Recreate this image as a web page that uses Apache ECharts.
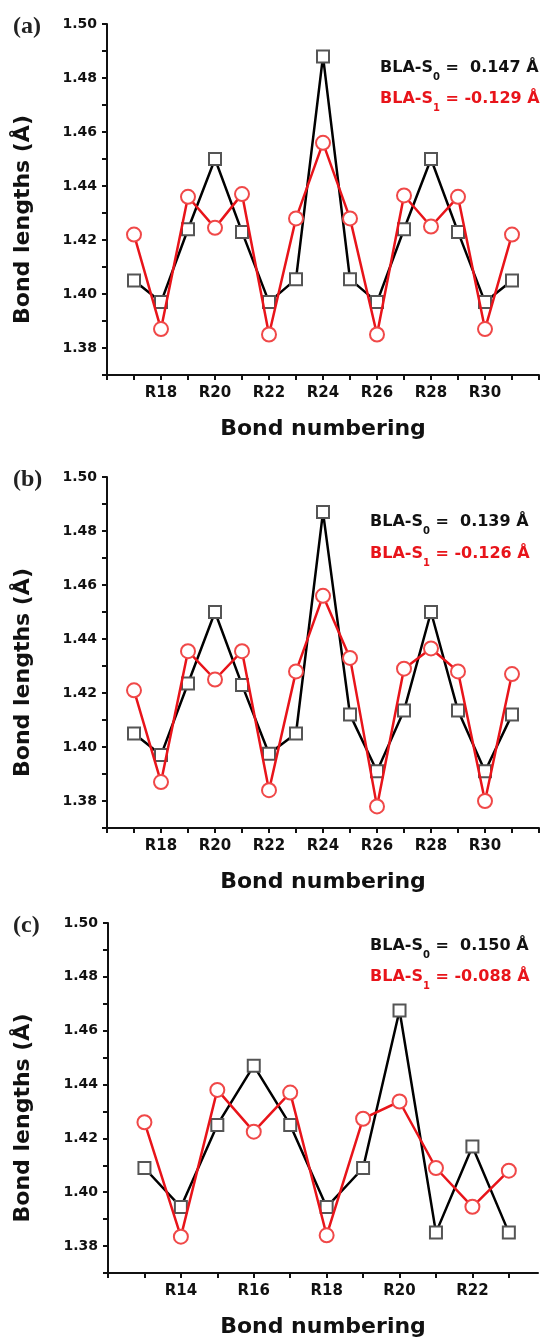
<!DOCTYPE html>
<html>
<head>
<meta charset="utf-8">
<script src="https://cdn.jsdelivr.net/npm/echarts@6/dist/echarts.min.js"></script>
<style>
    html, body { margin: 0; padding: 0; background: #fff; }
    #chartBox { width: 544px; height: 1339px; }
</style>
</head>
<body>
<div id="chartBox"></div>
<script>
    // bond numbers (x) for each panel
    const bondsAB = [17, 18, 19, 20, 21, 22, 23, 24, 25, 26, 27, 28, 29, 30, 31];
    const bondsC = [13, 14, 15, 16, 17, 18, 19, 20, 21, 22, 23];

    // bond lengths (Å), S0 = black squares, S1 = red circles
    const s0A = [1.405, 1.397, 1.424, 1.450, 1.423, 1.397, 1.4055, 1.488, 1.4055, 1.397, 1.424, 1.450, 1.423, 1.397, 1.405];
    const s1A = [1.422, 1.387, 1.436, 1.4245, 1.437, 1.385, 1.428, 1.456, 1.428, 1.385, 1.4365, 1.425, 1.436, 1.387, 1.422];
    const s0B = [1.405, 1.397, 1.4235, 1.450, 1.423, 1.3975, 1.405, 1.487, 1.412, 1.391, 1.4135, 1.450, 1.4135, 1.391, 1.412];
    const s1B = [1.421, 1.387, 1.4355, 1.425, 1.4355, 1.384, 1.428, 1.456, 1.433, 1.378, 1.429, 1.4365, 1.428, 1.380, 1.427];
    const s0C = [1.409, 1.3945, 1.425, 1.447, 1.425, 1.3945, 1.409, 1.4675, 1.385, 1.417, 1.385];
    const s1C = [1.426, 1.3835, 1.438, 1.4225, 1.437, 1.384, 1.4273, 1.4337, 1.409, 1.3946, 1.408];

    // annotation texts
    const panelTags = ['(a)', '(b)', '(c)'];
    const blaS0 = ['0.147', '0.139', '0.150'];
    const blaS1 = ['-0.129', '-0.126', '-0.088'];

    const xRanges = [[16, 32], [16, 32], [12, 23.8]];
    const xLabelRanges = [[18, 30], [18, 30], [14, 22]];

    const grids = [
        { left: 107, top: 24, width: 432, height: 351 },
        { left: 107, top: 477, width: 432, height: 351 },
        { left: 108, top: 923, width: 430, height: 350 }
    ];
    // where the BLA texts sit (pixels)
    const blaPos = [[380, 68, 99], [370, 522, 554], [370, 946, 977]];

    const sans = 'DejaVu Sans';
    const axisColor = '#111';

    function seq (a, b, step) {
        let out = [];
        for (let v = a; v <= b + 1e-9; v += step) out.push(Math.round(v * 100) / 100);
        return out;
    }

    let xAxes = [], yAxes = [], series = [], graphics = [];
    const panels = [[bondsAB, s0A, s1A], [bondsAB, s0B, s1B], [bondsC, s0C, s1C]];

    panels.forEach(function (p, i) {
        const lr = xLabelRanges[i];
        xAxes.push({
            type: 'value',
            gridIndex: i,
            min: xRanges[i][0],
            max: xRanges[i][1],
            interval: 1,
            name: 'Bond numbering',
            nameLocation: 'middle',
            nameGap: 43,
            nameTextStyle: { fontFamily: sans, fontWeight: 'bold', fontSize: 22, color: axisColor },
            axisLine: { onZero: false, lineStyle: { color: axisColor, width: 2 } },
            axisTick: {
                length: 5,
                lineStyle: { color: axisColor, width: 2 },
                customValues: seq(xRanges[i][0], Math.floor(xRanges[i][1]), 1)
            },
            axisLabel: {
                margin: 11,
                fontFamily: sans,
                fontWeight: 'bold',
                fontSize: 15,
                color: axisColor,
                customValues: seq(lr[0], lr[1], 2),
                formatter: function (v) {
                    return (v % 2 === 0 && v >= lr[0] && v <= lr[1]) ? 'R' + v : '';
                }
            },
            splitLine: { show: false }
        });
        yAxes.push({
            type: 'value',
            gridIndex: i,
            min: 1.37,
            max: 1.50,
            interval: 0.01,
            axisLine: { show: true, onZero: false, lineStyle: { color: axisColor, width: 2 } },
            axisTick: { show: true, length: 5, lineStyle: { color: axisColor, width: 2 } },
            axisLabel: {
                margin: 10,
                fontFamily: sans,
                fontWeight: 'bold',
                fontSize: 14,
                color: axisColor,
                formatter: function (v) {
                    let k = Math.round(v * 100);
                    return (k % 2 === 0) ? (k / 100).toFixed(2) : '';
                }
            },
            splitLine: { show: false }
        });

        series.push({
            type: 'line',
            xAxisIndex: i,
            yAxisIndex: i,
            data: p[0].map((b, j) => [b, p[1][j]]),
            symbol: 'emptyRect',
            symbolSize: 12,
            lineStyle: { color: '#000', width: 2.5 },
            itemStyle: { color: '#555', borderWidth: 1.3 },
            z: 2
        });
        series.push({
            type: 'line',
            xAxisIndex: i,
            yAxisIndex: i,
            data: p[0].map((b, j) => [b, p[2][j]]),
            symbol: 'emptyCircle',
            symbolSize: 14,
            lineStyle: { color: '#e8141a', width: 2.5 },
            itemStyle: { color: '#f04848', borderWidth: 1.3 },
            z: 3
        });

        const g = grids[i];
        // panel tag (a) (b) (c)
        graphics.push({
            type: 'text',
            left: 13,
            top: g.top - 9,
            style: {
                text: panelTags[i],
                font: 'bold 24px "Liberation Serif", "Times New Roman", serif',
                fill: '#222'
            }
        });
        // rotated y title
        graphics.push({
            type: 'text',
            x: 23,
            y: g.top + g.height / 2 + 20,
            rotation: Math.PI / 2,
            style: {
                text: 'Bond lengths (Å)',
                font: 'bold 22px "DejaVu Sans"',
                fill: axisColor,
                align: 'center',
                verticalAlign: 'middle'
            }
        });
        // BLA annotations (subscript pushed down by a tall line box)
        const bp = blaPos[i];
        const rich = function (col) {
            return {
                m: { fontFamily: sans, fontWeight: 'bold', fontSize: 16, lineHeight: 28, fill: col },
                sub: { fontFamily: sans, fontWeight: 'bold', fontSize: 10, lineHeight: 2, verticalAlign: 'bottom', fill: col }
            };
        };
        graphics.push({
            type: 'text',
            x: bp[0],
            y: bp[1],
            style: {
                text: '{m|BLA-S}{sub|0}{m| =  ' + blaS0[i] + ' Å}',
                rich: rich('#111'),
                verticalAlign: 'middle'
            }
        });
        graphics.push({
            type: 'text',
            x: bp[0],
            y: bp[2],
            style: {
                text: '{m|BLA-S}{sub|1}{m| = ' + blaS1[i] + ' Å}',
                rich: rich('#e8141a'),
                verticalAlign: 'middle'
            }
        });
    });

    let myChart = echarts.init(document.getElementById('chartBox'));
    myChart.setOption({
        backgroundColor: '#fff',
        animation: false,
        grid: grids,
        xAxis: xAxes,
        yAxis: yAxes,
        series: series,
        graphic: graphics
    });
</script>
</body>
</html>
